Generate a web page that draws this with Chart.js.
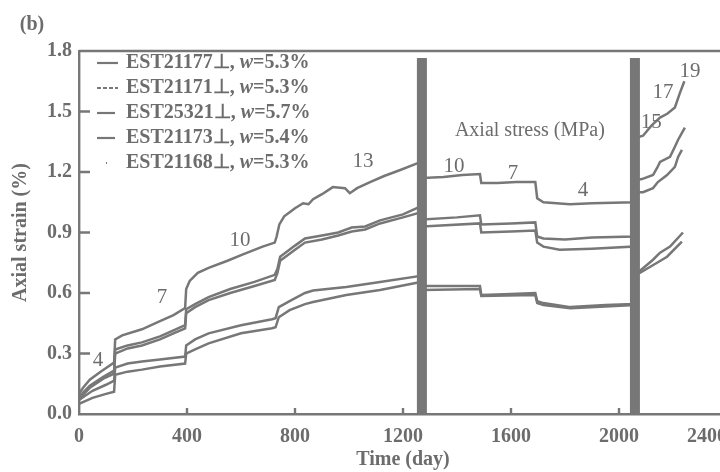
<!DOCTYPE html>
<html><head><meta charset="utf-8">
<script src="https://cdn.jsdelivr.net/npm/chart.js@4/dist/chart.umd.min.js"></script>
<style>
html,body{margin:0;padding:0;overflow:hidden;background:#fff;width:720px;height:472px}
#wrap{position:relative;width:760px;height:472px}
</style></head>
<body><div id="wrap"><canvas id="c" width="760" height="472"></canvas></div>
<script>
// ---------- data ----------
const seriesNames = ['EST21177\u22A5', 'EST21171\u22A5', 'EST25321\u22A5', 'EST21173\u22A5', 'EST21168\u22A5'];
const waterContents = ['5.3%', '5.3%', '5.7%', '5.4%', '5.3%'];

const daysA = [0,15,40,80,130,134,160,233,300,350,393,397,410,440,480,550,605,680,725,732,742,760,800,830,850,867,900,940,985,1003,1030,1078,1130,1190,1266,
  1274,1350,1420,1485,1490,1550,1620,1690,1697,1720,1818,1900,2055,
  2063,2089,2120,2152,2180,2207,2225,2242];
const strainA = [0.10,0.13,0.17,0.21,0.255,0.37,0.39,0.42,0.46,0.49,0.525,0.62,0.66,0.70,0.725,0.76,0.79,0.83,0.85,0.88,0.94,0.98,1.02,1.045,1.04,1.065,1.09,1.125,1.12,1.095,1.12,1.15,1.18,1.21,1.25,
  1.17,1.175,1.185,1.19,1.145,1.145,1.15,1.15,1.07,1.05,1.04,1.045,1.05,
  1.37,1.38,1.43,1.47,1.49,1.52,1.59,1.65];

const daysB = [0,40,90,130,134,180,233,300,350,393,397,430,480,560,650,725,735,745,800,837,900,960,1010,1060,1115,1200,1266,
  1274,1400,1485,1490,1600,1690,1697,1720,1800,1900,2055,
  2063,2085,2126,2141,2152,2189,2207,2219,2244];
const strainB = [0.085,0.14,0.185,0.215,0.32,0.34,0.355,0.385,0.415,0.44,0.52,0.545,0.58,0.62,0.655,0.69,0.72,0.78,0.835,0.87,0.885,0.90,0.925,0.93,0.96,0.99,1.03,
  0.965,0.975,0.985,0.94,0.945,0.95,0.88,0.87,0.865,0.875,0.88,
  1.16,1.165,1.185,1.22,1.25,1.275,1.325,1.36,1.42];

const daysC = [0,40,90,130,134,180,233,300,350,393,397,430,480,560,650,725,735,745,800,837,900,960,1010,1060,1115,1200,1266,
  1274,1485,1490,1600,1690,1697,1720,1780,1900,2055,
  2063,2089,2126,2144,2178,2207,2219,2233];
const strainC = [0.075,0.13,0.175,0.20,0.30,0.325,0.34,0.37,0.40,0.425,0.50,0.53,0.565,0.60,0.635,0.665,0.70,0.76,0.815,0.85,0.865,0.885,0.905,0.915,0.945,0.975,1.0,
  0.93,0.945,0.90,0.905,0.91,0.85,0.83,0.815,0.82,0.83,
  1.10,1.10,1.12,1.15,1.185,1.225,1.275,1.31];

const daysD = [0,50,100,130,134,180,233,300,393,397,430,480,600,715,728,740,780,837,867,990,1115,1266,
  1274,1485,1490,1600,1690,1697,1720,1820,1950,2055,
  2063,2078,2126,2152,2189,2237];
const strainD = [0.07,0.115,0.145,0.165,0.23,0.25,0.26,0.27,0.285,0.34,0.37,0.40,0.44,0.47,0.475,0.53,0.56,0.60,0.612,0.63,0.655,0.685,
  0.635,0.635,0.59,0.595,0.60,0.56,0.55,0.53,0.54,0.545,
  0.71,0.71,0.765,0.80,0.83,0.90];

const daysE = [0,50,100,130,134,180,233,300,393,397,430,480,600,715,728,740,780,837,867,990,1115,1266,
  1274,1485,1490,1690,1697,1720,1820,2055,
  2063,2078,2141,2178,2233];
const strainE = [0.05,0.08,0.10,0.11,0.195,0.21,0.22,0.235,0.25,0.30,0.32,0.35,0.40,0.425,0.43,0.48,0.515,0.545,0.555,0.59,0.615,0.655,
  0.615,0.62,0.585,0.59,0.55,0.54,0.525,0.54,
  0.70,0.70,0.75,0.78,0.855];

const stressChangeDays = [1270, 2059];
const stressBarTop = 1.765;

const stressLabels = ['4','7','10','13','10','7','4','15','17','19'];
const stressLabelDays = [70,307,596,1052,1389,1607,1867,2119,2163,2263];
const stressLabelStrains = [0.263,0.58,0.858,1.254,1.225,1.195,1.106,1.448,1.596,1.696];
const stressTitle = 'Axial stress (MPa)';
const stressTitleDay = 1670, stressTitleStrain = 1.403;

const xTickLabels = ['0','400','800','1200','1600','2000','2400'];
const yTickLabels = ['0.0','0.3','0.6','0.9','1.2','1.5','1.8'];
const xTitle = 'Time (day)';
const yTitle = 'Axial strain (%)';
const panelLabel = '(b)';

// ---------- styling ----------
const LINE = '#777777';
const TEXT = '#6c6c6c';
const SERIF = '"Liberation Serif", "Times New Roman", serif';

const allDays = [daysA, daysB, daysC, daysD, daysE];
const allStrain = [strainA, strainB, strainC, strainD, strainE];
const dashes = [[], [], [], [], []];
const legendDashes = [[], [4,2], [], [], [1,30]];

const datasets = allDays.map((d, i) => ({
  label: seriesNames[i] + ', w=' + waterContents[i],
  data: d.map((x, j) => ({x: x, y: allStrain[i][j]})),
  borderColor: LINE, borderWidth: 2.5, borderDash: dashes[i],
  pointRadius: 0, tension: 0, fill: false, order: 1
}));
stressChangeDays.forEach(d => datasets.push({
  label: 'stress change',
  data: [{x: d, y: 0}, {x: d, y: stressBarTop}],
  borderColor: '#777', borderWidth: 10, borderCapStyle: 'butt',
  pointRadius: 0, fill: false, order: 0
}));

const frame = {
  id: 'frame',
  beforeDatasetsDraw(chart) {
    const {ctx, chartArea: a, scales: {x, y}} = chart;
    ctx.save();
    ctx.strokeStyle = LINE; ctx.lineWidth = 2.4;
    ctx.beginPath();
    ctx.moveTo(a.left, a.top); ctx.lineTo(chart.width, a.top);
    y.ticks.forEach(t => { if (t.value > 0.01 && t.value < 1.79) { const py = y.getPixelForValue(t.value); ctx.moveTo(a.left, py); ctx.lineTo(a.left + 11, py); } });
    x.ticks.forEach(t => { if (t.value > 0) { const px = x.getPixelForValue(t.value); ctx.moveTo(px, a.bottom); ctx.lineTo(px, a.bottom - 6); } });
    ctx.stroke();
    ctx.restore();
  }
};

const annotations = {
  id: 'annotations',
  afterDraw(chart) {
    const {ctx, scales: {x, y}} = chart;
    ctx.save();
    ctx.fillStyle = TEXT; ctx.textAlign = 'center'; ctx.textBaseline = 'middle';
    ctx.font = '21px ' + SERIF;
    stressLabels.forEach((s, i) => ctx.fillText(s, x.getPixelForValue(stressLabelDays[i]), y.getPixelForValue(stressLabelStrains[i])));
    ctx.font = '20px ' + SERIF;
    ctx.fillText(stressTitle, x.getPixelForValue(stressTitleDay), y.getPixelForValue(stressTitleStrain));
    ctx.font = 'bold 20px ' + SERIF;
    ctx.fillText(panelLabel, 32, 25);
    // legend
    const rowY0 = 63, rowStep = 25, sx0 = 97, sx1 = 118, tx = 126;
    seriesNames.forEach((n, i) => {
      const ry = rowY0 + i * rowStep;
      ctx.strokeStyle = LINE; ctx.lineWidth = 2.2; ctx.setLineDash(legendDashes[i]);
      ctx.beginPath();
      if (i === 4) { ctx.moveTo(106, ry); ctx.lineTo(108, ry); } else { ctx.moveTo(sx0, ry); ctx.lineTo(i >= 2 ? 115 : sx1, ry); }
      ctx.stroke(); ctx.setLineDash([]);
      ctx.textAlign = 'left';
      let cx = tx;
      ctx.font = 'bold 20px ' + SERIF;
      const p1 = n + ', ';
      ctx.fillText(p1, cx, ry); cx += ctx.measureText(p1).width;
      ctx.font = 'italic bold 20px ' + SERIF;
      ctx.fillText('w', cx, ry); cx += ctx.measureText('w').width;
      ctx.font = 'bold 20px ' + SERIF;
      ctx.fillText('=' + waterContents[i], cx, ry);
    });
    ctx.restore();
  }
};

new Chart(document.getElementById('c'), {
  type: 'line',
  data: {datasets},
  plugins: [frame, annotations],
  options: {
    responsive: false, animation: false, devicePixelRatio: 1,
    layout: {padding: {left: 0, top: 51, right: 33, bottom: 0}},
    plugins: {legend: {display: false}, tooltip: {enabled: false}},
    scales: {
      x: {
        type: 'linear', min: 0, max: 2400,
        afterFit: s => { s.height = 58; s.paddingLeft = 0; s.paddingRight = 0; },
        grid: {drawOnChartArea: false, drawTicks: false},
        border: {display: true, color: LINE, width: 2.4},
        ticks: {stepSize: 400, padding: 11, color: TEXT, font: {family: SERIF, size: 20, weight: 'bold'},
          callback: (v) => { const i = Math.round(v / 400); return i === xTickLabels.length - 1 ? xTickLabels[i] + '\u2002\u2002\u2002\u2002' : xTickLabels[i]; }},
        title: {display: true, text: xTitle, color: TEXT, font: {family: SERIF, size: 20, weight: 'bold'}, padding: {top: 0, bottom: 0}}
      },
      y: {
        type: 'linear', min: 0, max: 1.8,
        afterFit: s => { s.width = 79; },
        grid: {drawOnChartArea: false, drawTicks: false},
        border: {display: true, color: LINE, width: 2.4},
        ticks: {stepSize: 0.3, padding: 7, color: TEXT, font: {family: SERIF, size: 20, weight: 'bold'},
          callback: (v) => yTickLabels[Math.round(v / 0.3)]},
        title: {display: true, text: yTitle, color: TEXT, font: {family: SERIF, size: 20, weight: 'bold'}, padding: {top: 9, bottom: 0}}
      }
    }
  }
});
</script>
</body></html>
